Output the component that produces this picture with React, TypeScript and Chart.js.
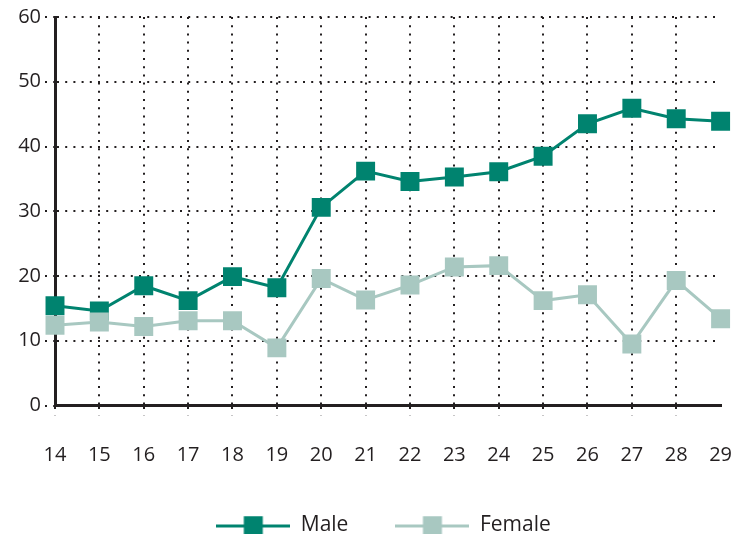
import React, { useEffect, useRef } from "react";
import { Chart, registerables } from "chart.js";

Chart.register(...registerables);

const categories = ["14", "15", "16", "17", "18", "19", "20", "21", "22", "23", "24", "25", "26", "27", "28", "29"];
const maleValues = [15.4, 14.6, 18.5, 16.2, 19.9, 18.2, 30.6, 36.2, 34.6, 35.3, 36.1, 38.5, 43.5, 45.9, 44.3, 43.9];
const femaleValues = [12.4, 12.9, 12.2, 13.1, 13.1, 8.9, 19.6, 16.3, 18.6, 21.4, 21.6, 16.2, 17.1, 9.5, 19.3, 13.4];
const seriesNames = ["Male", "Female"];
const yTicks = [0, 10, 20, 30, 40, 50, 60];

const MALE = "#00836f";
const FEMALE = "#a8c8c1";
const INK = "#231f20";
const FONT = "'Open Sans', 'Noto Sans', sans-serif";

function legendSymbol(color: string): HTMLCanvasElement {
  const c = document.createElement("canvas");
  c.width = 74;
  c.height = 20;
  const ctx = c.getContext("2d")!;
  ctx.fillStyle = color;
  ctx.fillRect(0, 9, 74, 3);
  ctx.fillRect(27.5, 0.5, 19, 19);
  return c;
}

const legendShift = {
  id: "legendShift",
  afterLayout(chart: any) {
    if (chart.legend) chart.legend.left = 40;
  },
};

export default function App() {
  const ref = useRef<HTMLCanvasElement>(null);
  useEffect(() => {
    document.body.style.margin = "0";
    const symbols = [legendSymbol(MALE), legendSymbol(FEMALE)];
    const dash = [2, 6.2];
    const lastIndex = categories.length - 1;
    const chart = new Chart(ref.current!, {
      type: "line",
      data: {
        labels: categories,
        datasets: [
          {
            label: seriesNames[0],
            data: maleValues,
            borderColor: MALE,
            backgroundColor: MALE,
            borderWidth: 3,
            pointStyle: "rect",
            pointRadius: 13.4,
            pointBorderWidth: 0,
            pointHoverRadius: 13.4,
            order: 1,
          },
          {
            label: seriesNames[1],
            data: femaleValues,
            borderColor: FEMALE,
            backgroundColor: FEMALE,
            borderWidth: 3,
            pointStyle: "rect",
            pointRadius: 13.4,
            pointBorderWidth: 0,
            pointHoverRadius: 13.4,
            order: 0,
          },
        ],
      },
      plugins: [legendShift],
      options: {
        animation: false,
        responsive: false,
        maintainAspectRatio: false,
        layout: { padding: { top: 17, right: 7, left: 0, bottom: -12 } },
        plugins: {
          tooltip: { enabled: false },
          legend: {
            position: "bottom",
            labels: {
              usePointStyle: true,
              pointStyleWidth: 74,
              boxHeight: 19,
              padding: 47,
              color: INK,
              font: { family: FONT, size: 21 },
              generateLabels: (ch: any) => {
                const items = Chart.defaults.plugins.legend.labels.generateLabels(ch);
                items.sort((a: any, b: any) => a.datasetIndex - b.datasetIndex);
                items.forEach((it: any) => {
                  it.pointStyle = symbols[it.datasetIndex];
                  it.lineWidth = 0;
                });
                return items;
              },
            },
          },
        },
        scales: {
          x: {
            offset: false,
            grid: {
              color: (c: any) => (c.index === lastIndex ? "rgba(0,0,0,0)" : INK),
              lineWidth: 2,
              tickBorderDash: dash,
              tickLength: 10,
              drawTicks: true,
            },
            border: { display: true, color: INK, width: 3, dash: dash },
            ticks: {
              color: INK,
              font: { family: FONT, size: 20 },
              padding: 28,
              maxRotation: 0,
              autoSkip: false,
            },
            afterFit: (s: any) => {
              s.height = 62.5;
              s.paddingLeft = 0;
              s.paddingRight = 0;
            },
          },
          y: {
            min: 0,
            max: 60,
            afterBuildTicks: (s: any) => {
              s.ticks = yTicks.map((v) => ({ value: v }));
            },
            grid: {
              color: INK,
              lineWidth: 2,
              tickBorderDash: dash,
              tickLength: 10,
            },
            border: { display: true, color: INK, width: 3, dash: dash },
            ticks: {
              color: INK,
              font: { family: FONT, size: 20 },
              padding: 4,
            },
            afterFit: (s: any) => {
              s.width = 55;
              s.paddingTop = 0;
              s.paddingBottom = 0;
            },
          },
        },
      },
    });
    return () => chart.destroy();
  }, []);
  return (
    <div style={{ width: 734, height: 534 }}>
      <canvas ref={ref} width={734} height={534} style={{ width: 734, height: 534 }} />
    </div>
  );
}
